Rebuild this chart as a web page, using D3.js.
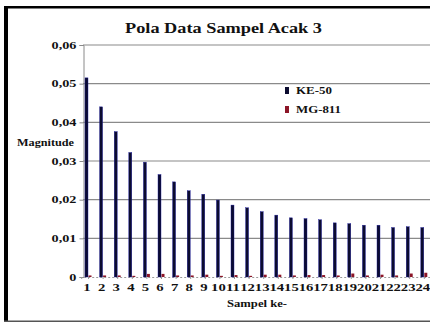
<!DOCTYPE html>
<html>
<head>
<meta charset="utf-8">
<script src="https://cdn.jsdelivr.net/npm/d3@7"></script>
<style>
  body { margin: 0; background: #fff; }
  svg { display: block; }
  text { font-family: "Liberation Serif", "Times New Roman", serif; font-weight: bold; fill: #111; }
</style>
</head>
<body>
<script>
const samples = d3.range(1, 25).map(String)
const ke50 = [0.0515, 0.0440, 0.0376, 0.0322, 0.0297, 0.0265, 0.0246, 0.0223, 0.0214, 0.0199,
  0.0186, 0.0179, 0.0169, 0.0160, 0.0153, 0.0151, 0.0148, 0.0140, 0.0138, 0.0134,
  0.0134, 0.0128, 0.0130, 0.0128]
const mg811 = [0.0004, 0.0004, 0.0004, 0.0003, 0.0008, 0.0008, 0.0004, 0.0004, 0.0006, 0.0003,
  0.0005, 0.0003, 0.0006, 0.0006, 0.0004, 0.0005, 0.0005, 0.0004, 0.0009, 0.0004,
  0.0006, 0.0004, 0.0009, 0.0011]
const yTicks = [0, 0.01, 0.02, 0.03, 0.04, 0.05, 0.06]
const seriesNames = ['KE-50', 'MG-811']
const colors = ['#0c0c30', '#8c1628']

const width = 430, height = 323
const svg = d3.select('body').append('svg').attr('width', width).attr('height', height)

// frame
svg.append('rect').attr('x', 4).attr('y', 6).attr('width', 4).attr('height', 316).attr('fill', '#000')
svg.append('rect').attr('x', 4).attr('y', 6).attr('width', 426).attr('height', 2.5).attr('fill', '#000')
svg.append('rect').attr('x', 4).attr('y', 320.5).attr('width', 426).attr('height', 1.5).attr('fill', '#555')

const x = d3.scaleBand().domain(samples).range([81.2, 431.6])
const y = d3.scaleLinear().domain([0, 0.06]).range([277, 45])

const g = svg.append('g')

// grid
g.append('g').selectAll('line').data(yTicks.filter(d => d > 0)).join('line')
  .attr('x1', 83).attr('x2', width)
  .attr('y1', d => y(d)).attr('y2', d => y(d))
  .attr('stroke', '#8a8a8a').attr('stroke-width', 1.2)

// y axis
const yAxis = g.append('g').attr('transform', 'translate(83.5,0)')
  .call(d3.axisLeft(y).tickValues(yTicks).tickSize(4).tickPadding(3)
    .tickFormat(d => d === 0 ? '0' : d3.format('.2f')(d).replace('.', ',')))
yAxis.attr('font-family', null)
yAxis.select('.domain').attr('stroke', '#8a8a8a')
yAxis.selectAll('.tick line').attr('stroke', '#8a8a8a')
yAxis.selectAll('text').attr('font-size', 9.5).attr('x', 0)
  .attr('transform', 'translate(-7,0) scale(1.5,1)')

// x axis baseline
const xAxis = g.append('g').attr('transform', `translate(0,${y(0)})`)
  .call(d3.axisBottom(x).tickSize(2).tickPadding(5))
xAxis.attr('font-family', null)
xAxis.select('.domain').attr('stroke', '#999').attr('stroke-dasharray', '2,2')
xAxis.selectAll('.tick line').attr('stroke', '#999')
xAxis.selectAll('text').attr('font-size', 10.5)
  .attr('transform', 'translate(-1.5,0) scale(1.4,1)')

// bars
const bw = 3
const groups = g.append('g').selectAll('g').data(samples).join('g')
  .attr('transform', d => `translate(${x(d) + x.bandwidth() / 2},0)`)
groups.append('rect')
  .attr('x', -bw - 0.5).attr('width', bw)
  .attr('y', (d, i) => y(ke50[i])).attr('height', (d, i) => y(0) - y(ke50[i]))
  .attr('fill', colors[0]).attr('stroke', '#1c1ca0').attr('stroke-width', 0.4)
groups.append('rect')
  .attr('x', 0).attr('width', bw)
  .attr('y', (d, i) => y(mg811[i])).attr('height', (d, i) => y(0) - y(mg811[i]))
  .attr('fill', colors[1])

// title and labels
function label(txt, x0, y0, size, len) {
  return svg.append('text').attr('x', x0).attr('y', y0).attr('font-size', size)
    .attr('textLength', len).attr('lengthAdjust', 'spacingAndGlyphs').text(txt)
}
label('Pola Data Sampel Acak 3', 125, 33, 15, 197)
label('Magnitude', 17, 146, 10, 57)
label('Sampel ke-', 227, 307, 10, 60)

// legend
const legend = svg.append('g').selectAll('g').data(seriesNames).join('g')
  .attr('transform', (d, i) => `translate(285,${87 + i * 19})`)
legend.append('rect').attr('width', 4).attr('height', 7).attr('fill', (d, i) => colors[i])
legend.append('text').attr('x', 11).attr('y', 7).attr('font-size', 10)
  .attr('textLength', (d, i) => [36, 45][i]).attr('lengthAdjust', 'spacingAndGlyphs').text(d => d)
</script>
</body>
</html>
